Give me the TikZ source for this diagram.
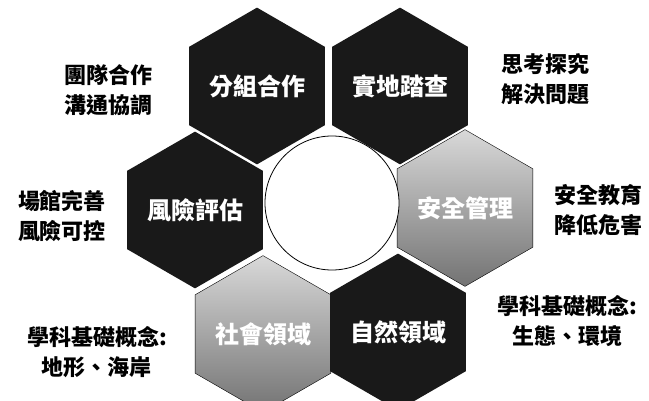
\documentclass[tikz,border=0pt]{standalone}
\usepackage{fontspec}
\newfontfamily\cjk{Noto Sans CJK TC}
\usetikzlibrary{shapes.geometric}
\begin{document}
\begin{tikzpicture}[x=1pt,y=-1pt]
        \tikzstyle{hexagon}=[regular polygon,regular polygon sides=6,shape border rotate=30,minimum size=148pt,inner sep=0pt,text=white,font=\cjk\bfseries\fontsize{24}{24}\selectfont]
        \tikzstyle{darkhex}=[hexagon,fill=black!90]
        \tikzstyle{lighthex}=[hexagon,draw=black,thin,top color=black!15,bottom color=black!55]
        \tikzstyle{note}=[align=center,font=\cjk\bfseries\fontsize{22}{30}\selectfont]
        \useasboundingbox (0,0) rectangle (649,401);
        \clip (0,0) rectangle (649,401);
       \begin{scope}
         % the ring of hexagons round the hub
         \node [darkhex] (group) at (257,86) {分組合作};
         \node [darkhex] (field) at (400,86) {實地踏查};
         \node [darkhex] (risk) at (195,210) {風險評估};
         \node [lighthex] (safety) at (465,208) {安全管理};
         \node [lighthex] (social) at (263,334) {社會領域};
         \node [darkhex] (nature) at (398,332) {自然領域};
         \node [circle,draw,thick,fill=white,minimum size=134pt] (hub) at (332,203) {};
         % notes beside them
         \node [note] (n1) at (108,90) {團隊合作\\溝通協調};
         \node [note] (n2) at (545,79) {思考探究\\解決問題};
         \node [note] (n3) at (62,216) {場館完善\\風險可控};
         \node [note] (n4) at (598,210) {安全教育\\降低危害};
         \node [note] (n5) at (97,352) {學科基礎概念:\\地形、海岸};
         \node [note] (n6) at (567,321) {學科基礎概念:\\生態、環境};
        \end{scope}
      \end{tikzpicture}
\end{document}
